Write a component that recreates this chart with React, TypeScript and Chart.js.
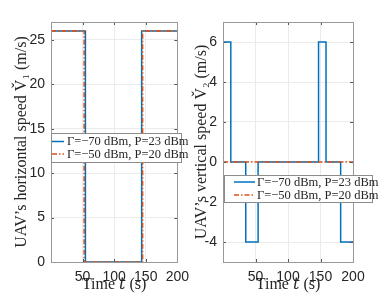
import React, { useEffect, useRef } from 'react';
import { Chart, registerables } from 'chart.js';

Chart.register(...registerables);

// ---- data ----
const legendLabels = ['Γ=−70 dBm, P=23 dBm', 'Γ=−50 dBm, P=20 dBm'];
const xTicks = [50, 100, 150, 200];
const leftYTicks = [0, 5, 10, 15, 20, 25];
const rightYTicks = [-4, -2, 0, 2, 4, 6];

const hTime1 = [0, 54.5, 54.5, 143.5, 143.5, 200];
const hSpeed1 = [26, 26, 0, 0, 26, 26];
const hTime2 = [0, 52.5, 52.5, 145, 145, 200];
const hSpeed2 = [26, 26, 0, 0, 26, 26];

const vTime1 = [0, 12, 12, 35, 35, 54, 54, 147, 147, 158.5, 158.5, 181, 181, 200];
const vSpeed1 = [6, 6, 0, 0, -4, -4, 0, 0, 6, 6, 0, 0, -4, -4];
const vTime2 = [0, 200];
const vSpeed2 = [0, 0];

const BLUE = '#0072BD';
const ORANGE = '#D95319';
const TXT = '#262626';
const SERIF = '"Liberation Serif", "DejaVu Serif", serif';
const SANS = '"Liberation Sans", Arial, sans-serif';

const pts = (t: number[], v: number[]) => t.map((x, i) => ({ x, y: v[i] }));

const framePlugin = {
  id: 'frame',
  afterDatasetsDraw(chart: any) {
    const { ctx, chartArea } = chart;
    const { left, right, top, bottom } = chartArea;
    const xs = chart.scales.x;
    const ys = chart.scales.y;
    ctx.save();
    ctx.strokeStyle = '#555';
    ctx.lineWidth = 1;
    ctx.beginPath();
    xs.ticks.forEach((t: any) => {
      const px = Math.round(xs.getPixelForValue(t.value)) + 0.5;
      ctx.moveTo(px, bottom); ctx.lineTo(px, bottom - 3);
      ctx.moveTo(px, top); ctx.lineTo(px, top + 3);
    });
    ys.ticks.forEach((t: any) => {
      const py = Math.round(ys.getPixelForValue(t.value)) + 0.5;
      ctx.moveTo(left, py); ctx.lineTo(left + 3, py);
      ctx.moveTo(right, py); ctx.lineTo(right - 3, py);
    });
    ctx.stroke();
    ctx.strokeStyle = '#999';
    ctx.lineWidth = 1;
    ctx.strokeRect(Math.round(left) + 0.5, Math.round(top) + 0.5, Math.round(right - left), Math.round(bottom - top));
    ctx.restore();
  },
  afterDraw(chart: any, _a: any, opts: any) {
    const lg = opts && opts.legend;
    if (!lg) return;
    const { ctx } = chart;
    ctx.save();
    ctx.fillStyle = '#fff';
    ctx.fillRect(lg.x, lg.y, lg.w, lg.h);
    ctx.strokeStyle = '#8c8c8c';
    ctx.lineWidth = 1;
    ctx.strokeRect(lg.x + 0.5, lg.y + 0.5, lg.w, lg.h);
    ctx.font = `12.5px ${SERIF}`;
    ctx.textBaseline = 'middle';
    ctx.textAlign = 'left';
    chart.data.datasets.forEach((ds: any, i: number) => {
      const y = lg.rows[i];
      ctx.strokeStyle = ds.borderColor;
      ctx.lineWidth = ds.borderWidth;
      ctx.setLineDash(ds.borderDash || []);
      ctx.beginPath();
      ctx.moveTo(lg.l1, y); ctx.lineTo(lg.l2, y);
      ctx.stroke();
      ctx.setLineDash([]);
      ctx.fillStyle = TXT;
      ctx.fillText(ds.label, lg.tx, y + 0.5);
    });
    ctx.restore();
  },
};

function makeConfig(opts: any) {
  return {
    type: 'line',
    data: {
      datasets: [
        { label: legendLabels[0], data: pts(opts.t1, opts.v1), borderColor: BLUE, borderWidth: 1.5, pointRadius: 0, tension: 0, order: 1 },
        { label: legendLabels[1], data: pts(opts.t2, opts.v2), borderColor: ORANGE, borderWidth: 1.6, borderDash: [5, 2, 1.5, 2], pointRadius: 0, tension: 0, order: 0 },
      ],
    },
    options: {
      responsive: false,
      animation: false,
      events: [],
      layout: { padding: { left: 0, right: opts.padRight, top: 22, bottom: 0 } },
      plugins: {
        legend: { display: false },
        tooltip: { enabled: false },
        frame: { legend: opts.legend },
      },
      scales: {
        x: {
          type: 'linear',
          min: 0,
          max: 200,
          afterBuildTicks: (s: any) => { s.ticks = xTicks.map((v) => ({ value: v })); },
          afterFit: (s: any) => { s.height = opts.xHeight; },
          grid: { color: '#ebebeb', drawTicks: false, lineWidth: 1 },
          border: { display: false },
          ticks: { padding: 7, font: { family: SANS, size: 14 }, color: TXT, maxRotation: 0, autoSkip: false },
          title: { display: true, text: 'Time 𝑡 (s)', font: { family: SERIF, size: 16 }, color: TXT, padding: { top: 0, bottom: 0 } },
        },
        y: {
          type: 'linear',
          min: opts.yMin,
          max: opts.yMax,
          afterBuildTicks: (s: any) => { s.ticks = opts.yTicks.map((v: number) => ({ value: v })); },
          afterFit: (s: any) => { s.width = opts.yWidth; },
          grid: { color: '#ebebeb', drawTicks: false, lineWidth: 1 },
          border: { display: false },
          ticks: { padding: 6, font: { family: SANS, size: 14 }, color: TXT, autoSkip: false },
          title: { display: true, text: opts.yTitle, font: { family: SERIF, size: 16 }, color: TXT, padding: { top: opts.titlePad, bottom: 0 } },
        },
      },
    },
    plugins: [framePlugin],
  };
}

export default function App() {
  const c1 = useRef<HTMLCanvasElement>(null);
  const c2 = useRef<HTMLCanvasElement>(null);
  useEffect(() => {
    const ch1 = new Chart(c1.current as any, makeConfig({
      t1: hTime1, v1: hSpeed1, t2: hTime2, v2: hSpeed2,
      yMin: 0, yMax: 27, yTicks: leftYTicks, yWidth: 51, xHeight: 32, padRight: 15,
      yTitle: 'UAV’s horizontal speed V̌₁ (m/s)', titlePad: 12,
      legend: { x: 51, y: 133, w: 130, h: 29, l1: 52, l2: 64, tx: 67, rows: [141.5, 154] },
    }) as any);
    const ch2 = new Chart(c2.current as any, makeConfig({
      t1: vTime1, v1: vSpeed1, t2: vTime2, v2: vSpeed2,
      yMin: -5, yMax: 7, yTicks: rightYTicks, yWidth: 37, xHeight: 32, padRight: 39,
      yTitle: 'UAV’s vertical speed V̌₂ (m/s)', titlePad: 6,
      legend: { x: 38, y: 175, w: 148, h: 27, l1: 48, l2: 69, tx: 71, rows: [182, 195] },
    }) as any);
    return () => { ch1.destroy(); ch2.destroy(); };
  }, []);
  return (
    <div style={{ position: 'fixed', left: 0, top: 0, width: 392, height: 294, background: '#fff', overflow: 'hidden' }}>
      <canvas ref={c1} width={196} height={294} style={{ position: 'absolute', left: 0, top: 0 }} />
      <canvas ref={c2} width={206} height={294} style={{ position: 'absolute', left: 186, top: 0 }} />
    </div>
  );
}
